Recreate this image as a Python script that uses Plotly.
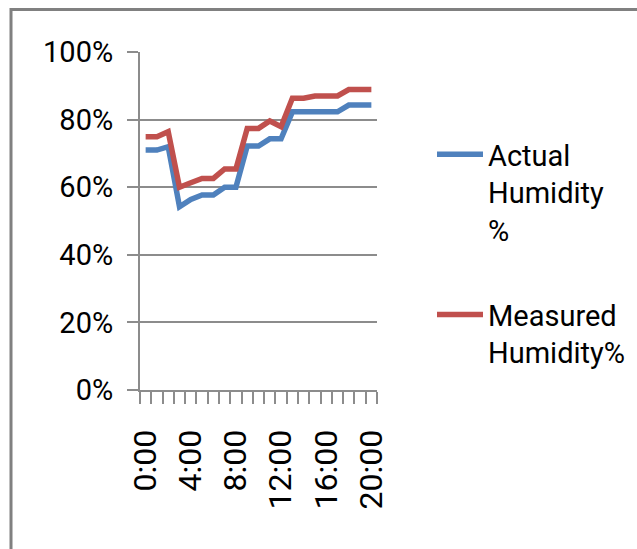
import plotly.graph_objects as go

hours = list(range(21))
hour_labels = [f"{h}:00" for h in hours]
label_hours = [0, 4, 8, 12, 16, 20]

actual = [0.71, 0.71, 0.72, 0.542, 0.564, 0.577, 0.577, 0.60, 0.60, 0.722, 0.722,
          0.743, 0.743, 0.823, 0.823, 0.823, 0.823, 0.823, 0.843, 0.843, 0.843]
measured = [0.749, 0.749, 0.764, 0.60, 0.613, 0.626, 0.626, 0.654, 0.654, 0.774, 0.774,
            0.796, 0.779, 0.863, 0.863, 0.87, 0.87, 0.87, 0.889, 0.889, 0.889]

series_names = ["Actual<br>Humidity<br>%", "Measured<br>Humidity%"]
series_colors = ["#4F81BD", "#C0504D"]

FONT = "Roboto, Liberation Sans, Arial, sans-serif"
GRID = "#8C8C8C"

W, H = 637, 549
L, R, T, B = 140, 260, 52, 159
pw, ph = W - L - R, H - T - B

fig = go.Figure()
for i, (vals, name, col) in enumerate(zip([actual, measured], series_names, series_colors)):
    fig.add_trace(go.Scatter(
        x=hours, y=vals, mode="lines", name=name, legendgroup=f"g{i}",
        line=dict(color=col, width=5.5),
    ))

def px_x(p):
    return (p - L) / pw

def px_y(p):
    return (H - B - p) / ph

fig.add_shape(type="rect", xref="paper", yref="paper",
              x0=px_x(11), x1=px_x(W + 10), y0=px_y(H + 10), y1=px_y(9.5),
              line=dict(color="#808080", width=3), layer="below")

fig.update_layout(
    width=W, height=H,
    margin=dict(l=L, r=R, t=T, b=B, autoexpand=False),
    paper_bgcolor="white", plot_bgcolor="white",
    font=dict(family=FONT, size=28, color="black"),
    showlegend=True,
    legend=dict(x=px_x(432), y=px_y(129), xanchor="left", yanchor="top",
                valign="top", tracegroupgap=44, itemwidth=46,
                font=dict(size=29), bgcolor="rgba(0,0,0,0)"),
    xaxis=dict(
        range=[-0.5, 20.5], tickmode="array", tickvals=label_hours,
        ticktext=[hour_labels[h] for h in label_hours],
        tickangle=-90, ticks="", ticklabelstandoff=25,
        showgrid=False, zeroline=False,
        showline=True, linecolor=GRID, linewidth=2,
        minor=dict(ticks="outside", tick0=0.5, dtick=1, ticklen=12,
                   tickcolor=GRID, tickwidth=1.5, showgrid=False),
        tickfont=dict(size=32),
    ),
    yaxis=dict(
        range=[0, 1], dtick=0.2, tickformat=".0%",
        ticks="outside", ticklen=11, tickcolor=GRID, tickwidth=1.5,
        showgrid=True, gridcolor=GRID, gridwidth=1.5,
        zeroline=False, showline=True, linecolor=GRID, linewidth=2,
        ticklabelstandoff=8, tickfont=dict(size=29),
    ),
)

fig.write_html("out.html")
